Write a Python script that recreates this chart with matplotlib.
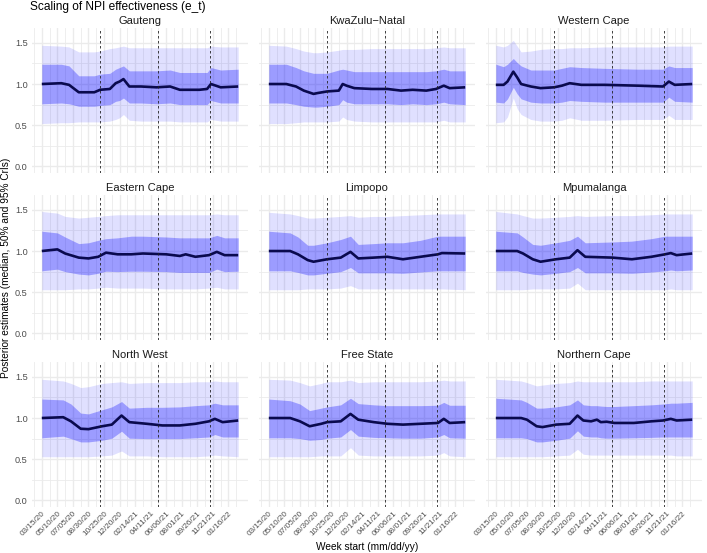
import numpy as np
import pandas as pd
import matplotlib
matplotlib.use('Agg')
import matplotlib.pyplot as plt

plt.rcParams['font.family'] = ['Liberation Sans', 'DejaVu Sans']

# weeks are counted from the first week start (03/15/20)
start = pd.Timestamp('2020-03-15')
wave_lines = ['2020-10-11', '2021-05-09', '2021-11-11']

provinces = ['Gauteng', 'KwaZulu\u2212Natal', 'Western Cape',
             'Eastern Cape', 'Limpopo', 'Mpumalanga',
             'North West', 'Free State', 'Northern Cape']

# Gauteng
gp_wk = [0, 10, 14, 19, 27, 30, 35, 38, 40, 42, 45, 51, 59, 66, 71, 81, 85, 87, 92, 101]
gp_med = [1.00, 1.01, 0.99, 0.90, 0.90, 0.93, 0.94, 1.01, 1.03, 1.06, 0.97, 0.97, 0.96, 0.97, 0.93, 0.93, 0.94, 1.00, 0.96, 0.97]
gp_hi50 = [1.24, 1.24, 1.22, 1.10, 1.10, 1.12, 1.13, 1.18, 1.20, 1.22, 1.16, 1.16, 1.16, 1.17, 1.14, 1.14, 1.14, 1.20, 1.17, 1.18]
gp_lo50 = [0.76, 0.77, 0.76, 0.73, 0.73, 0.74, 0.75, 0.79, 0.80, 0.83, 0.77, 0.77, 0.76, 0.77, 0.75, 0.75, 0.75, 0.80, 0.77, 0.77]
gp_hi95 = [1.47, 1.46, 1.45, 1.39, 1.39, 1.40, 1.43, 1.44, 1.45, 1.46, 1.44, 1.44, 1.44, 1.44, 1.44, 1.44, 1.44, 1.46, 1.45, 1.45]
gp_lo95 = [0.52, 0.53, 0.53, 0.54, 0.54, 0.54, 0.55, 0.57, 0.59, 0.63, 0.56, 0.55, 0.55, 0.55, 0.54, 0.54, 0.54, 0.57, 0.55, 0.55]

# KwaZulu-Natal
kz_wk = [0, 9, 14, 18, 23, 25, 30, 36, 38, 40, 44, 53, 61, 68, 74, 81, 86, 90, 93, 101]
kz_med = [1.00, 1.00, 0.97, 0.92, 0.88, 0.89, 0.91, 0.92, 1.00, 0.98, 0.95, 0.94, 0.94, 0.92, 0.93, 0.92, 0.94, 0.98, 0.95, 0.96]
kz_hi50 = [1.24, 1.24, 1.20, 1.16, 1.13, 1.13, 1.13, 1.17, 1.18, 1.17, 1.15, 1.15, 1.15, 1.15, 1.15, 1.15, 1.16, 1.18, 1.16, 1.16]
kz_lo50 = [0.77, 0.77, 0.75, 0.73, 0.72, 0.72, 0.73, 0.75, 0.81, 0.78, 0.76, 0.76, 0.76, 0.75, 0.76, 0.75, 0.76, 0.78, 0.76, 0.75]
kz_hi95 = [1.47, 1.46, 1.43, 1.40, 1.38, 1.38, 1.39, 1.41, 1.42, 1.42, 1.42, 1.43, 1.43, 1.43, 1.43, 1.43, 1.44, 1.45, 1.44, 1.44]
kz_lo95 = [0.52, 0.52, 0.53, 0.54, 0.54, 0.54, 0.54, 0.55, 0.60, 0.57, 0.55, 0.54, 0.54, 0.54, 0.54, 0.54, 0.54, 0.56, 0.54, 0.54]

# Western Cape
wc_wk = [0, 4, 6, 9, 11, 13, 18, 23, 30, 34, 38, 44, 56, 73, 86, 89, 92, 101]
wc_med = [0.99, 0.99, 1.03, 1.15, 1.08, 1.00, 0.97, 0.95, 0.96, 0.98, 1.01, 0.99, 0.99, 0.98, 0.97, 1.03, 0.99, 1.00]
wc_hi50 = [1.24, 1.21, 1.24, 1.31, 1.26, 1.22, 1.17, 1.17, 1.17, 1.19, 1.21, 1.20, 1.19, 1.18, 1.18, 1.22, 1.20, 1.20]
wc_lo50 = [0.78, 0.77, 0.82, 0.96, 0.88, 0.82, 0.78, 0.77, 0.77, 0.78, 0.80, 0.79, 0.78, 0.78, 0.78, 0.84, 0.79, 0.78]
wc_hi95 = [1.47, 1.45, 1.47, 1.53, 1.46, 1.39, 1.40, 1.42, 1.43, 1.43, 1.44, 1.44, 1.45, 1.45, 1.45, 1.46, 1.46, 1.46]
wc_lo95 = [0.53, 0.54, 0.60, 0.83, 0.70, 0.63, 0.57, 0.55, 0.55, 0.56, 0.59, 0.56, 0.56, 0.57, 0.57, 0.62, 0.57, 0.57]

# Eastern Cape
ec_wk = [0, 8, 12, 19, 24, 29, 33, 39, 46, 52, 64, 71, 74, 79, 86, 90, 94, 101]
ec_med = [1.00, 1.02, 0.97, 0.92, 0.91, 0.93, 0.98, 0.96, 0.96, 0.97, 0.96, 0.94, 0.96, 0.93, 0.95, 0.99, 0.95, 0.95]
ec_hi50 = [1.24, 1.22, 1.17, 1.09, 1.10, 1.13, 1.15, 1.16, 1.18, 1.18, 1.17, 1.16, 1.16, 1.16, 1.16, 1.19, 1.16, 1.16]
ec_lo50 = [0.76, 0.78, 0.75, 0.72, 0.71, 0.73, 0.755, 0.75, 0.755, 0.755, 0.75, 0.74, 0.74, 0.74, 0.74, 0.78, 0.75, 0.755]
ec_hi95 = [1.48, 1.46, 1.42, 1.40, 1.41, 1.42, 1.43, 1.44, 1.44, 1.44, 1.44, 1.44, 1.44, 1.44, 1.44, 1.45, 1.44, 1.44]
ec_lo95 = [0.53, 0.53, 0.53, 0.54, 0.54, 0.55, 0.56, 0.55, 0.55, 0.55, 0.54, 0.54, 0.54, 0.54, 0.55, 0.56, 0.54, 0.54]

# Limpopo
lp_wk = [0, 11, 15, 20, 23, 30, 37, 42, 46, 54, 61, 69, 78, 87, 89, 101]
lp_med = [1.00, 1.00, 0.96, 0.89, 0.87, 0.90, 0.92, 0.99, 0.91, 0.92, 0.93, 0.90, 0.93, 0.96, 0.975, 0.97]
lp_hi50 = [1.24, 1.22, 1.17, 1.07, 1.07, 1.10, 1.14, 1.18, 1.08, 1.09, 1.10, 1.10, 1.13, 1.18, 1.18, 1.18]
lp_lo50 = [0.76, 0.76, 0.74, 0.71, 0.71, 0.73, 0.75, 0.80, 0.735, 0.735, 0.735, 0.73, 0.745, 0.76, 0.76, 0.76]
lp_hi95 = [1.47, 1.45, 1.43, 1.40, 1.40, 1.41, 1.42, 1.43, 1.41, 1.42, 1.42, 1.43, 1.44, 1.45, 1.45, 1.45]
lp_lo95 = [0.53, 0.53, 0.53, 0.54, 0.54, 0.54, 0.55, 0.58, 0.54, 0.54, 0.54, 0.54, 0.54, 0.54, 0.54, 0.53]

# Mpumalanga
mp_wk = [0, 11, 14, 19, 23, 31, 38, 42, 46, 60, 70, 80, 87, 90, 93, 101]
mp_med = [1.00, 1.00, 0.97, 0.90, 0.87, 0.90, 0.92, 1.01, 0.93, 0.92, 0.90, 0.93, 0.96, 0.975, 0.95, 0.97]
mp_hi50 = [1.24, 1.22, 1.17, 1.08, 1.07, 1.10, 1.13, 1.18, 1.10, 1.11, 1.12, 1.15, 1.18, 1.18, 1.18, 1.18]
mp_lo50 = [0.76, 0.76, 0.74, 0.72, 0.71, 0.73, 0.75, 0.80, 0.735, 0.735, 0.73, 0.745, 0.76, 0.77, 0.76, 0.77]
mp_hi95 = [1.48, 1.45, 1.43, 1.40, 1.40, 1.41, 1.42, 1.43, 1.42, 1.43, 1.43, 1.44, 1.45, 1.45, 1.45, 1.45]
mp_lo95 = [0.53, 0.53, 0.53, 0.54, 0.54, 0.54, 0.55, 0.61, 0.53, 0.53, 0.53, 0.53, 0.53, 0.54, 0.53, 0.53]

# North West
nw_wk = [0, 11, 15, 20, 24, 31, 36, 41, 45, 54, 62, 71, 79, 86, 89, 93, 101]
nw_med = [1.00, 1.01, 0.96, 0.87, 0.865, 0.90, 0.92, 1.03, 0.95, 0.93, 0.91, 0.91, 0.93, 0.96, 0.99, 0.95, 0.97]
nw_hi50 = [1.23, 1.22, 1.17, 1.06, 1.05, 1.10, 1.135, 1.20, 1.12, 1.13, 1.13, 1.135, 1.15, 1.16, 1.18, 1.16, 1.16]
nw_lo50 = [0.76, 0.78, 0.75, 0.71, 0.71, 0.73, 0.755, 0.84, 0.755, 0.75, 0.75, 0.75, 0.76, 0.77, 0.80, 0.77, 0.77]
nw_hi95 = [1.47, 1.45, 1.42, 1.37, 1.38, 1.42, 1.43, 1.44, 1.42, 1.43, 1.43, 1.43, 1.44, 1.44, 1.45, 1.44, 1.44]
nw_lo95 = [0.53, 0.53, 0.53, 0.53, 0.53, 0.54, 0.55, 0.60, 0.54, 0.54, 0.53, 0.53, 0.53, 0.54, 0.55, 0.54, 0.53]

# Free State
fs_wk = [0, 11, 16, 21, 27, 30, 37, 42, 46, 54, 61, 69, 78, 87, 90, 93, 101]
fs_med = [1.00, 1.00, 0.96, 0.90, 0.93, 0.95, 0.96, 1.05, 0.98, 0.95, 0.93, 0.92, 0.93, 0.94, 0.99, 0.94, 0.95]
fs_hi50 = [1.23, 1.21, 1.17, 1.09, 1.12, 1.135, 1.16, 1.24, 1.175, 1.16, 1.15, 1.15, 1.15, 1.155, 1.19, 1.155, 1.155]
fs_lo50 = [0.76, 0.76, 0.75, 0.73, 0.74, 0.755, 0.77, 0.86, 0.78, 0.765, 0.76, 0.755, 0.755, 0.77, 0.80, 0.76, 0.755]
fs_hi95 = [1.47, 1.46, 1.43, 1.39, 1.42, 1.44, 1.44, 1.46, 1.43, 1.44, 1.44, 1.44, 1.44, 1.45, 1.46, 1.45, 1.45]
fs_lo95 = [0.53, 0.53, 0.53, 0.53, 0.54, 0.54, 0.54, 0.64, 0.55, 0.54, 0.54, 0.54, 0.54, 0.55, 0.58, 0.54, 0.53]

# Northern Cape
nc_wk = [0, 13, 16, 21, 24, 31, 38, 42, 45, 49, 52, 54, 57, 61, 71, 80, 86, 90, 93, 101]
nc_med = [1.00, 1.00, 0.98, 0.90, 0.89, 0.92, 0.93, 1.03, 0.97, 0.96, 0.98, 0.95, 0.955, 0.94, 0.94, 0.96, 0.97, 0.99, 0.97, 0.98]
nc_hi50 = [1.24, 1.22, 1.19, 1.12, 1.12, 1.135, 1.16, 1.22, 1.16, 1.15, 1.15, 1.145, 1.14, 1.14, 1.15, 1.16, 1.17, 1.18, 1.18, 1.19]
nc_lo50 = [0.76, 0.76, 0.75, 0.71, 0.71, 0.73, 0.755, 0.845, 0.78, 0.77, 0.77, 0.76, 0.755, 0.755, 0.76, 0.765, 0.77, 0.77, 0.77, 0.77]
nc_hi95 = [1.47, 1.45, 1.43, 1.39, 1.40, 1.42, 1.43, 1.45, 1.44, 1.44, 1.44, 1.44, 1.44, 1.44, 1.44, 1.45, 1.45, 1.45, 1.45, 1.45]
nc_lo95 = [0.53, 0.53, 0.53, 0.53, 0.53, 0.54, 0.55, 0.62, 0.56, 0.55, 0.55, 0.55, 0.55, 0.55, 0.55, 0.55, 0.55, 0.55, 0.54, 0.54]

series = [
    (gp_wk, gp_med, gp_lo50, gp_hi50, gp_lo95, gp_hi95),
    (kz_wk, kz_med, kz_lo50, kz_hi50, kz_lo95, kz_hi95),
    (wc_wk, wc_med, wc_lo50, wc_hi50, wc_lo95, wc_hi95),
    (ec_wk, ec_med, ec_lo50, ec_hi50, ec_lo95, ec_hi95),
    (lp_wk, lp_med, lp_lo50, lp_hi50, lp_lo95, lp_hi95),
    (mp_wk, mp_med, mp_lo50, mp_hi50, mp_lo95, mp_hi95),
    (nw_wk, nw_med, nw_lo50, nw_hi50, nw_lo95, nw_hi95),
    (fs_wk, fs_med, fs_lo50, fs_hi50, fs_lo95, fs_hi95),
    (nc_wk, nc_med, nc_lo50, nc_hi50, nc_lo95, nc_hi95),
]


def to_dates(weeks):
    return start + pd.to_timedelta(np.asarray(weeks, dtype=float) * 7, unit='D')


W, H = 707, 553
fig, axes = plt.subplots(3, 3, figsize=(W / 100, H / 100), dpi=100, sharex=True, sharey=True)
fig.subplots_adjust(left=32 / W, right=702 / W, top=1 - 28 / H, bottom=1 - 507 / H,
                    wspace=11 / 216, hspace=22 / 145)

major = to_dates(np.arange(0, 97, 8))
minor = to_dates(np.arange(-4, 105, 8))
grid_col = '#EBEBEB'
text_col = '#4D4D4D'

for i, ax in enumerate(axes.flat):
    wk, med, lo50, hi50, lo95, hi95 = series[i]
    d = to_dates(wk)
    ax.fill_between(d, lo95, hi95, color='blue', alpha=0.12, lw=0, zorder=2)
    ax.fill_between(d, lo50, hi50, color='blue', alpha=0.30, lw=0, zorder=3)
    ax.plot(d, med, color='#0a0a4e', lw=1.9, zorder=4, solid_capstyle='butt')
    for v in wave_lines:
        ax.axvline(pd.Timestamp(v), color='#222222', lw=0.6, ls=(0, (3, 3)), zorder=5)

    ax.set_xlim(to_dates([-5.05])[0], to_dates([106.05])[0])
    ax.set_ylim(-0.08, 1.68)
    ax.set_xticks(major)
    ax.set_xticks(minor, minor=True)
    ax.set_xticklabels([t.strftime('%m/%d/%y') for t in major])
    ax.set_yticks([0, 0.5, 1.0, 1.5])
    ax.set_yticklabels(['0.0', '0.5', '1.0', '1.5'])
    ax.set_yticks([0.25, 0.75, 1.25], minor=True)
    ax.grid(which='major', color=grid_col, lw=1.0, zorder=0)
    ax.grid(which='minor', color=grid_col, lw=0.6, zorder=0)
    ax.set_axisbelow(True)
    for s in ax.spines.values():
        s.set_visible(False)
    ax.tick_params(which='both', length=0, colors=text_col, labelsize=6.6, pad=3)
    ax.tick_params(axis='x', labelrotation=45, labelsize=5.9, pad=2)
    for lab in ax.get_xticklabels():
        lab.set_ha('right')
        lab.set_rotation_mode('anchor')
    ax.set_title(provinces[i], fontsize=8, color='#1A1A1A', pad=3)

fig.text(30 / W, 1 - 1 / H, 'Scaling of NPI effectiveness (e_t)', fontsize=8.6,
         color='black', ha='left', va='top')
fig.text(367 / W, 1 - 547 / H, 'Week start (mm/dd/yy)', fontsize=7.3,
         color='black', ha='center', va='center')
fig.text(6 / W, 1 - 268 / H, 'Posterior estimates (median, 50% and 95% CrIs)',
         fontsize=7.3, color='black', ha='center', va='center', rotation=90)

fig.savefig('out.png', dpi=100)
